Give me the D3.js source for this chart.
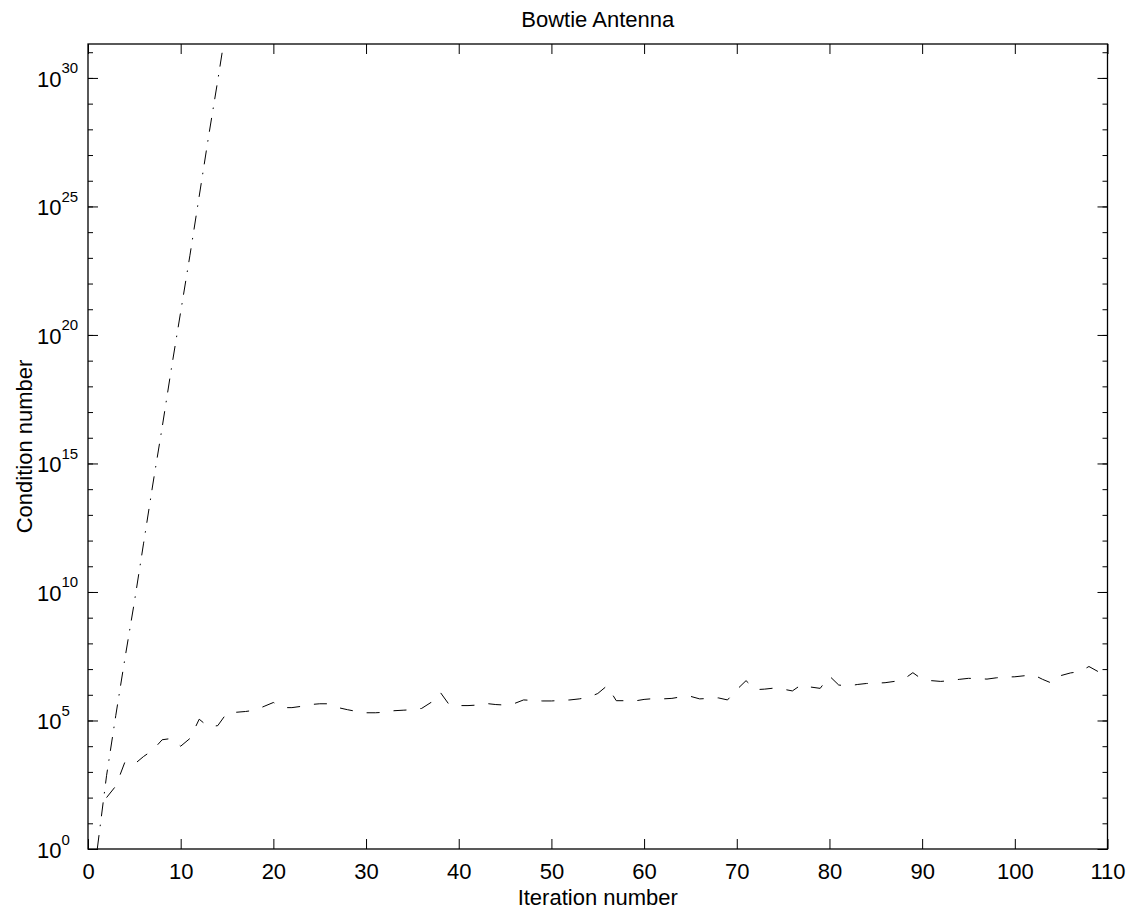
<!DOCTYPE html>
<html>
  <head>
    <meta charset="utf-8">
    <title>Bowtie Antenna</title>
    <script src="https://d3js.org/d3.v7.min.js"></script>
    <style>
      body { margin: 0; background: #fff; }
      svg { display: block; font-family: "Liberation Sans", Arial, sans-serif; }
      .tick line { stroke: #000; stroke-width: 1; }
      .tick text { fill: #000; font-size: 22px; }
      .domain { display: none; }
    </style>
  </head>
  <body>
    <div id="container"></div>
    <script>
      // data (log10 of the condition number)
      xTicks = [0, 10, 20, 30, 40, 50, 60, 70, 80, 90, 100, 110];
      yMajorExps = [0, 5, 10, 15, 20, 25, 30];
      yMinorExps = d3.range(0, 32);
      // dash-dot series, iterations 1 to 15
      dashDotStart = 1;
      dashDotLog = [0, 2.85, 5.2, 7.45, 9.6, 11.9, 14.2, 16.4, 18.7, 20.9, 23.1, 25.4, 27.7, 29.9, 32.2];
      // dashed series, iterations 2 to 110
      dashedStart = 2;
      dashedLog = [
        2.0, 2.45, 3.4, 3.3, 3.6, 3.85, 4.25, 4.3, 4.0, 4.3,
        5.05, 4.75, 4.8, 5.3, 5.32, 5.35, 5.4, 5.55, 5.7, 5.5,
        5.5, 5.55, 5.62, 5.65, 5.65, 5.5, 5.42, 5.35, 5.3, 5.3,
        5.32, 5.38, 5.4, 5.42, 5.47, 5.7, 6.1, 5.6, 5.58, 5.58,
        5.6, 5.66, 5.62, 5.6, 5.66, 5.8, 5.78, 5.76, 5.76, 5.78,
        5.8, 5.84, 5.9, 6.05, 6.35, 5.77, 5.77, 5.76, 5.82, 5.85,
        5.84, 5.86, 5.92, 5.94, 5.84, 5.86, 5.88, 5.8, 6.2, 6.55,
        6.2, 6.22, 6.26, 6.22, 6.15, 6.4, 6.3, 6.25, 6.73, 6.38,
        6.34, 6.4, 6.44, 6.45, 6.47, 6.52, 6.6, 6.86, 6.6, 6.55,
        6.52, 6.55, 6.6, 6.64, 6.63, 6.61, 6.66, 6.69, 6.7, 6.74,
        6.78, 6.6, 6.45, 6.75, 6.85, 6.9, 7.1, 6.9, 6.7
      ];

      // layout
      width = 1139;
      height = 913;
      margin = { top: 44, right: 31.5, bottom: 64, left: 88 };
      innerW = width - margin.left - margin.right;
      innerH = height - margin.top - margin.bottom;

      svg = d3.select("#container").append("svg")
        .attr("width", width)
        .attr("height", height);
      g = svg.append("g")
        .attr("transform", "translate(" + margin.left + "," + margin.top + ")");

      x = d3.scaleLinear().domain([0, 110]).range([0, innerW]);
      y = d3.scaleLog().domain([1, Math.pow(10, 31.32)]).range([innerH, 0]);

      // clip the lines to the box
      svg.append("defs").append("clipPath").attr("id", "clip")
        .append("rect").attr("width", innerW).attr("height", innerH);

      pow = function(e) { return Math.pow(10, e); };

      // inward ticks on all four sides
      xBottom = d3.axisBottom(x).tickValues(xTicks).tickSizeInner(-10).tickSizeOuter(0).tickPadding(14);
      xTop = d3.axisTop(x).tickValues(xTicks).tickSizeInner(-10).tickSizeOuter(0).tickFormat("");
      g.append("g").attr("transform", "translate(0," + innerH + ")").call(xBottom);
      g.append("g").call(xTop);

      [[d3.axisLeft, 0], [d3.axisRight, innerW]].forEach(function(a) {
        g.append("g").attr("transform", "translate(" + a[1] + ",0)")
          .call(a[0](y).tickValues(yMinorExps.map(pow)).tickSizeInner(-5).tickSizeOuter(0).tickFormat(""));
        g.append("g").attr("transform", "translate(" + a[1] + ",0)")
          .call(a[0](y).tickValues(yMajorExps.map(pow)).tickSizeInner(-10).tickSizeOuter(0).tickFormat(""));
      });

      // y labels as 10 with a superscript
      yLabels = g.append("g").selectAll("text")
        .data(yMajorExps)
        .enter().append("text")
          .attr("x", 37 - margin.left)
          .attr("y", function(d) { return y(pow(d)) + 9; })
          .style("font-size", "22px")
          .attr("fill", "#000");
      yLabels.append("tspan").text("10");
      yLabels.append("tspan")
        .attr("dy", -13.5)
        .style("font-size", "15px")
        .text(function(d) { return d; });

      // lines
      line = d3.line()
        .x(function(d) { return x(d.iter); })
        .y(function(d) { return y(pow(d.v)); });
      dashDot = dashDotLog.map(function(v, i) { return { iter: dashDotStart + i, v: v }; });
      dashed = dashedLog.map(function(v, i) { return { iter: dashedStart + i, v: v }; });
      lines = g.append("g").attr("clip-path", "url(#clip)");
      lines.append("path")
        .datum(dashDot)
        .attr("d", line)
        .attr("fill", "none")
        .attr("stroke", "#000")
        .attr("stroke-width", 1)
        .attr("stroke-dasharray", "14,9,1.5,8.5");
      lines.append("path")
        .datum(dashed)
        .attr("d", line)
        .attr("fill", "none")
        .attr("stroke", "#000")
        .attr("stroke-width", 1)
        .attr("stroke-dasharray", "13,14");

      // box
      g.append("rect")
        .attr("width", innerW)
        .attr("height", innerH)
        .attr("fill", "none")
        .attr("stroke", "#000")
        .attr("stroke-width", 1.3);

      // titles
      svg.append("text")
        .attr("x", margin.left + innerW / 2)
        .attr("y", 27)
        .attr("text-anchor", "middle")
        .style("font-size", "22px")
        .text("Bowtie Antenna");
      svg.append("text")
        .attr("x", margin.left + innerW / 2)
        .attr("y", 905)
        .attr("text-anchor", "middle")
        .style("font-size", "22px")
        .text("Iteration number");
      svg.append("text")
        .attr("transform", "translate(32," + (margin.top + innerH / 2) + ") rotate(-90)")
        .attr("text-anchor", "middle")
        .style("font-size", "22px")
        .text("Condition number");
    </script>
  </body>
</html>
